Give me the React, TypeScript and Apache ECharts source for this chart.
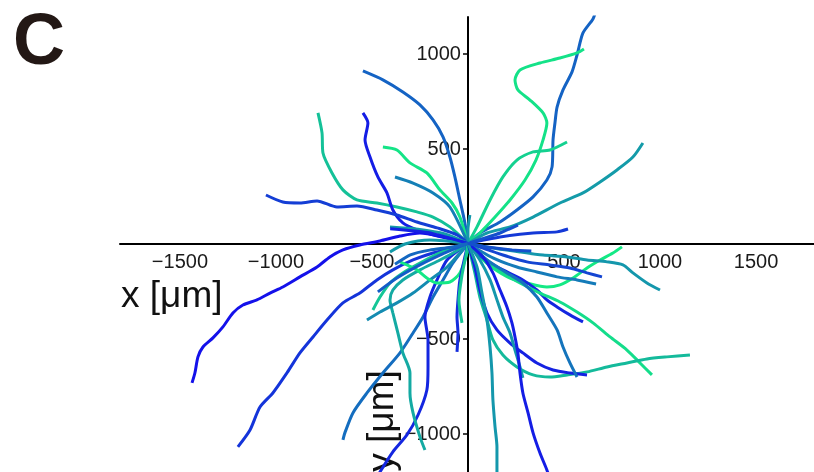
import React, { useEffect, useRef } from "react";
import * as echarts from "echarts";

// Tick labels
const xTickValues = [-1500, -1000, -500, 500, 1000, 1500];
const yTickValues = [-1000, -500, 500, 1000];

// Cell tracks, x / y in µm, starting at the origin
const track01 = [[0,0],[62,55],[167,113],[255,176],[339,245],[411,334],[438,403],[443,545],[453,634],[464,718],[495,808],[542,903],[568,992],[599,1108],[651,1182],[668,1230]];
const track02 = [[0,0],[62,55],[141,139],[219,229],[297,334],[354,439],[391,545],[411,634],[391,687],[323,755],[260,808],[245,861],[271,913],[375,950],[479,976],[568,1003],[604,1024]];
const track03 = [[0,0],[47,87],[115,229],[182,350],[255,439],[339,482],[427,492],[516,534]];
const track04 = [[0,0],[99,55],[219,87],[339,139],[479,213],[599,266],[688,324],[776,387],[859,455],[911,529]];
const track05 = [[0,0],[167,34],[339,55],[464,61],[521,76]];
const track06 = [[0,0],[-16,108],[-42,229],[-68,350],[-94,455],[-130,561],[-182,650],[-250,729],[-339,797],[-443,861],[-547,908]];
const track07 = [[0,0],[-94,87],[-182,139],[-266,166],[-370,192],[-474,213],[-578,229],[-651,282],[-708,371],[-755,476],[-760,582],[-781,687]];
const track08 = [[0,0],[-182,45],[-266,71],[-339,108],[-391,176],[-422,266],[-469,350],[-510,455],[-536,545],[-521,634],[-547,687]];
const track09 = [[0,0],[-42,139],[-83,213],[-146,282],[-214,371],[-302,424],[-370,492],[-443,508]];
const track10 = [[0,0],[-94,192],[-182,266],[-286,318],[-380,350]];
const track11 = [[0,0],[-57,45],[-161,82],[-266,113],[-370,150],[-474,176],[-578,197],[-682,192],[-786,224],[-875,213],[-964,218],[-1052,255]];
const track12 = [[0,0],[-120,50],[-260,75],[-406,87]];
const track13 = [[0,0],[-68,18],[-146,39],[-250,55],[-354,39],[-458,13],[-563,-8],[-651,-34],[-719,-71],[-786,-124],[-875,-176],[-964,-229],[-1031,-261],[-1099,-297],[-1172,-324],[-1224,-366],[-1276,-439],[-1328,-497],[-1380,-545],[-1406,-597],[-1422,-682],[-1437,-734]];
const track14 = [[0,0],[-57,-18],[-182,-50],[-286,-87],[-391,-139],[-474,-192],[-563,-261],[-651,-313],[-734,-403],[-807,-492],[-875,-576],[-943,-682],[-1016,-787],[-1083,-861],[-1135,-982],[-1198,-1071]];
const track15 = [[0,0],[-78,-103],[-130,-192],[-182,-282],[-234,-387],[-286,-471],[-354,-576],[-443,-682],[-526,-787],[-599,-892],[-641,-997],[-651,-1034]];
const track16 = [[0,0],[-109,-87],[-161,-192],[-198,-282],[-224,-387],[-208,-508],[-208,-650],[-214,-771],[-260,-903],[-318,-1008],[-391,-1097],[-458,-1203],[-490,-1260]];
const track17 = [[0,0],[-78,-50],[-146,-87],[-250,-139],[-339,-192],[-391,-245],[-406,-297],[-391,-366],[-365,-471],[-339,-576],[-302,-682],[-302,-787],[-286,-892],[-250,-1018],[-224,-1087]];
const track18 = [[0,0],[-42,-50],[-109,-124],[-198,-192],[-286,-261],[-370,-313],[-458,-361],[-526,-403]];
const track19 = [[0,0],[-146,-50],[-250,-103],[-339,-155],[-406,-208],[-458,-282],[-495,-350]];
const track20 = [[0,0],[-5,-50],[-42,-155],[-94,-203],[-161,-208],[-214,-182],[-266,-139],[-318,-113],[-354,-97]];
const track21 = [[0,0],[-16,-71],[-42,-192],[-52,-297],[-57,-387],[-52,-471],[-57,-571]];
const track22 = [[0,0],[-10,-61],[-31,-166],[-47,-297],[-31,-418]];
const track23 = [[0,0],[-120,-50],[-250,-113],[-370,-182],[-469,-255]];
const track24 = [[0,0],[-198,18],[-328,-3],[-406,-45]];
const track25 = [[0,0],[62,-71],[130,-129],[219,-182],[307,-208],[411,-229],[479,-218],[547,-182],[620,-129],[688,-87],[755,-50],[802,-18]];
const track26 = [[0,0],[130,-24],[271,-45],[391,-61],[516,-71],[620,-87],[724,-97],[807,-113],[859,-155],[932,-208],[1000,-245]];
const track27 = [[0,0],[78,-24],[182,-61],[307,-97],[427,-113],[531,-129],[620,-155],[698,-176]];
const track28 = [[0,0],[130,-76],[255,-124],[359,-150],[464,-176],[568,-192],[667,-213]];
const track29 = [[0,0],[47,-50],[115,-103],[203,-150],[286,-192],[359,-245],[411,-297],[464,-334],[531,-376],[599,-413]];
const track30 = [[0,0],[99,-87],[182,-155],[271,-208],[375,-261],[479,-308],[568,-361],[651,-418],[740,-492],[828,-561],[896,-629],[958,-692]];
const track31 = [[0,0],[36,-155],[62,-282],[99,-403],[130,-508],[182,-587],[255,-650],[339,-692],[427,-703],[516,-692],[620,-676],[724,-650],[828,-629],[932,-608],[1036,-597],[1156,-587]];
const track32 = [[0,0],[36,-124],[62,-245],[99,-366],[151,-455],[219,-524],[286,-576],[359,-629],[443,-666],[531,-682],[620,-692]];
const track33 = [[0,0],[99,-87],[203,-155],[286,-208],[359,-282],[411,-366],[464,-455],[495,-545],[531,-629],[568,-703]];
const track34 = [[0,0],[62,-87],[115,-192],[151,-297],[182,-387],[219,-471],[245,-561],[271,-650],[286,-708]];
const track35 = [[0,0],[78,-71],[130,-155],[167,-245],[203,-334],[229,-418],[245,-492],[260,-576],[271,-682],[286,-787],[313,-892],[339,-997],[375,-1103],[411,-1192],[430,-1250]];
const track36 = [[0,0],[47,-124],[73,-261],[99,-403],[115,-545],[125,-682],[130,-824],[141,-966],[151,-1071],[151,-1197],[152,-1250]];
const track37 = [[0,0],[89,29],[167,55],[260,97]];
const track38 = [[0,0],[0,71],[10,150]];
const track39 = [[0,0],[-95,28],[-210,58],[-320,70],[-405,78]];
const track40 = [[0,0],[-90,-20],[-200,-35],[-300,-60],[-380,-110]];
const track41 = [[0,0],[110,-20],[230,-34],[330,-40]];

const tracks = [track01,track02,track03,track04,track05,track06,track07,track08,track09,track10,track11,track12,track13,track14,track15,track16,track17,track18,track19,track20,track21,track22,track23,track24,track25,track26,track27,track28,track29,track30,track31,track32,track33,track34,track35,track36,track37,track38,track39,track40,track41];
// position of each track in the blue -> green colour scale (0..1)
const trackShades = [0.38,0.92,0.85,0.62,0.2,0.38,0.78,0.08,0.93,0.5,0.22,0.62,0.03,0.18,0.42,0.12,0.68,0.55,0.8,0.95,0.15,0.8,0.35,0.62,0.95,0.6,0.25,0.48,0.12,0.9,0.75,0.1,0.45,0.6,0.08,0.6,0.3,0.6,0.1,0.4,0.3];

function winter(t: number): string {
  const r = 20;
  const g = Math.round(255 * t * 0.92 + 10);
  const b = Math.round(255 * (1 - t / 2) * 0.86 + 18);
  return `rgb(${r},${g},${b})`;
}

const FONT = "'Liberation Sans', Arial, Helvetica, sans-serif";

// axis ranges (data units)
const X_MIN = -1812, X_MAX = 1802;
const Y_MIN = -1203, Y_MAX = 1192;
const GRID = { left: 120, right: 0, top: 17, bottom: 0 };
const W = 814, H = 472;

export default function App() {
  const ref = useRef<HTMLDivElement>(null);
  useEffect(() => {
    document.body.style.margin = "0";
    const chart = echarts.init(ref.current!, undefined, { renderer: "svg" });
    const gw = W - GRID.left - GRID.right;
    const gh = H - GRID.top - GRID.bottom;
    // distance from grid edges to the zero lines, so that the axes cross at the origin
    const zeroFromLeft = (-X_MIN / (X_MAX - X_MIN)) * gw;
    const zeroFromBottom = (-Y_MIN / (Y_MAX - Y_MIN)) * gh;
    chart.setOption({
      animation: false,
      grid: { ...GRID, containLabel: false, outerBoundsMode: "none" },
      xAxis: {
        type: "value",
        min: X_MIN,
        max: X_MAX,
        position: "bottom",
        offset: -zeroFromBottom,
        axisLine: { onZero: false, lineStyle: { color: "#000", width: 2 } },
        axisTick: { show: false },
        splitLine: { show: false },
        axisLabel: {
          customValues: xTickValues,
          fontSize: 20,
          color: "#1a1a1a",
          margin: 8,
          fontFamily: FONT,
          formatter: (v: number) => String(v).replace("-", "\u2212"),
        },
      },
      yAxis: {
        type: "value",
        min: Y_MIN,
        max: Y_MAX,
        position: "left",
        offset: -zeroFromLeft,
        axisLine: { onZero: false, lineStyle: { color: "#000", width: 2 } },
        axisTick: { show: true, customValues: yTickValues, length: 5, lineStyle: { color: "#000", width: 1.5 } },
        splitLine: { show: false },
        axisLabel: {
          customValues: yTickValues,
          fontSize: 20,
          color: "#1a1a1a",
          margin: 7,
          fontFamily: FONT,
          formatter: (v: number) => String(v).replace("-", "\u2212"),
        },
      },
      series: tracks.map((tr, i) => ({
        type: "line",
        data: tr,
        showSymbol: false,
        smooth: 0.25,
        lineStyle: { width: 3, color: winter(trackShades[i]) },
        itemStyle: { color: winter(trackShades[i]) },
        clip: true,
      })),
      graphic: [
        {
          type: "text",
          x: 13,
          y: 39,
          style: { text: "C", fontSize: 72, fontWeight: "bold", fontFamily: FONT, fill: "#231815", align: "left", verticalAlign: "middle", textAlign: "left", textVerticalAlign: "middle" },
        },
        {
          type: "text",
          x: 121,
          y: 294,
          style: { text: "x [\u03bcm]", fontSize: 37, fontFamily: FONT, fill: "#111", align: "left", verticalAlign: "middle", textAlign: "left", textVerticalAlign: "middle" },
        },
        {
          type: "text",
          x: 380,
          y: 421,
          rotation: Math.PI / 2,
          style: { text: "y [\u03bcm]", fontSize: 37, fontFamily: FONT, fill: "#111", align: "center", verticalAlign: "middle", textAlign: "center", textVerticalAlign: "middle" },
        },
      ],
    });
    return () => chart.dispose();
  }, []);
  return <div ref={ref} style={{ position: "fixed", left: 0, top: 0, width: W, height: H }} />;
}
